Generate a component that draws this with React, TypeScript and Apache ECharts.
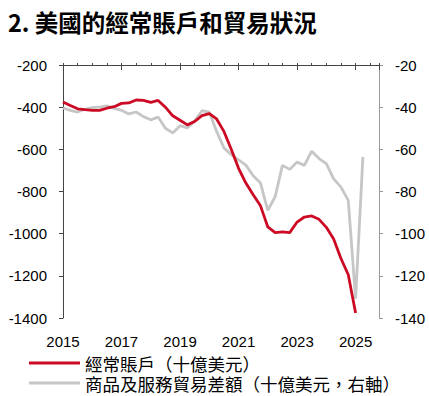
import React, { useEffect, useRef } from 'react';
import * as echarts from 'echarts';

// Quarterly data starting 2015 Q1
const START_YEAR = 2015;
const xLabelYears = [2015, 2017, 2019, 2021, 2023, 2025];
const leftTicks = [-1400, -1200, -1000, -800, -600, -400, -200];
const rightTicks = [-140, -120, -100, -80, -60, -40, -20];

// 經常賬戶（十億美元）, 2015Q1 – 2025Q1
const currentAccount = [
  -375, -392, -408, -412, -415, -415, -405, -398,
  -382, -380, -366, -368, -377, -368, -400, -441,
  -462, -484, -468, -440, -431, -456, -515, -600,
  -690, -760, -815, -868, -968, -995, -992, -995,
  -945, -921, -916, -932, -970, -1025, -1118, -1195,
  -1376,
];

// 商品及服務貿易差額（十億美元，右軸）, 2015Q1 – 2025Q2
const tradeBalance = [
  -40.4, -41.5, -42.3, -41.0, -40.2, -40.0, -39.4, -40.6,
  -41.5, -43.2, -42.3, -44.5, -46.0, -44.7, -50.0, -52.2,
  -48.8, -49.8, -46.5, -41.7, -42.3, -51.5, -59.3, -62.5,
  -65.0, -67.5, -72.5, -76.0, -88.9, -82.5, -67.6, -69.5,
  -66.0, -67.6, -60.9, -64.4, -66.8, -74.0, -77.9, -84.2,
  -130.8, -63.6,
];

const SERIES_NAMES = ['經常賬戶（十億美元）', '商品及服務貿易差額（十億美元，右軸）'];

const RED = '#cc0a24';
const GREY = '#c6c6c6';
const FONT = 'Liberation Sans, Arial, Noto Sans CJK TC, sans-serif';
const CJK_FONT = 'Noto Sans CJK TC, Liberation Sans, sans-serif';

const X_MAX = 10.8;

export default function App() {
  const ref = useRef<HTMLDivElement>(null);

  useEffect(() => {
    document.body.style.margin = '0';
    if (!ref.current) return;
    const chart = echarts.init(ref.current, undefined, { renderer: 'svg' });

    const redData = currentAccount.map((v, i) => [i * 0.25, v]);
    const greyData = tradeBalance.map((v, i) => [i * 0.25, v]);

    const common = { type: 'value' as const, min: 0, max: X_MAX };
    const plainNum = (v: number) => String(v);

    chart.setOption({
      animation: false,
      title: {
        text: '2. 美國的經常賬戶和貿易狀況',
        left: 3,
        top: 5,
        textStyle: {
          fontSize: 23.5,
          fontWeight: 'bold',
          color: '#000',
          fontFamily: CJK_FONT,
        },
      },
      legend: {
        type: 'plain',
        orient: 'vertical',
        left: 29,
        top: 354,
        padding: 0,
        height: 42,
        itemWidth: 51,
        itemHeight: 3,
        itemGap: 2,
        icon: 'rect',
        data: SERIES_NAMES,
        textStyle: {
          fontSize: 17.5,
          lineHeight: 18,
          color: '#000',
          fontFamily: CJK_FONT,
        },
      },
      grid: { left: 63, right: 50, top: 65, bottom: 78, containLabel: false },
      xAxis: [
        {
          ...common,
          position: 'bottom',
          interval: 2,
          axisLine: { show: false },
          axisTick: { show: false },
          splitLine: { show: false },
          axisLabel: {
            margin: 16,
            fontSize: 15,
            color: '#000',
            fontFamily: FONT,
            formatter: (v: number) => {
              const y = START_YEAR + Math.round(v);
              return xLabelYears.includes(y) ? String(y) : '';
            },
          },
        },
        {
          ...common,
          position: 'top',
          interval: 0.5,
          axisLine: { show: true, onZero: false, lineStyle: { color: '#444', width: 1 } },
          axisTick: { show: true, inside: false, length: 2, lineStyle: { color: '#444' } },
          axisLabel: { show: false },
          splitLine: { show: false },
        },
        {
          ...common,
          position: 'top',
          interval: 2,
          axisLine: { show: false },
          axisTick: { show: true, inside: true, length: 5, lineStyle: { color: '#444' } },
          axisLabel: { show: false },
          splitLine: { show: false },
        },
      ],
      yAxis: [
        {
          type: 'value',
          position: 'left',
          min: leftTicks[0],
          max: leftTicks[leftTicks.length - 1],
          interval: 200,
          axisLine: { show: true, onZero: false, lineStyle: { color: '#444', width: 1 } },
          axisTick: { show: true, length: 4, lineStyle: { color: '#444' } },
          splitLine: { show: false },
          axisLabel: { margin: 16, fontSize: 15, color: '#000', fontFamily: FONT, formatter: plainNum },
        },
        {
          type: 'value',
          position: 'right',
          min: rightTicks[0],
          max: rightTicks[rightTicks.length - 1],
          interval: 20,
          axisLine: { show: true, onZero: false, lineStyle: { color: '#9a9a9a', width: 1 } },
          axisTick: { show: true, length: 4, lineStyle: { color: '#9a9a9a' } },
          splitLine: { show: false },
          axisLabel: { margin: 16, fontSize: 15, color: '#000', fontFamily: FONT, formatter: plainNum },
        },
      ],
      series: [
        {
          name: SERIES_NAMES[1],
          type: 'line',
          xAxisIndex: 0,
          yAxisIndex: 1,
          data: greyData,
          showSymbol: false,
          symbol: 'none',
          lineStyle: { color: GREY, width: 2.8 },
          itemStyle: { color: GREY },
        },
        {
          name: SERIES_NAMES[0],
          type: 'line',
          xAxisIndex: 0,
          yAxisIndex: 0,
          data: redData,
          showSymbol: false,
          symbol: 'none',
          lineStyle: { color: RED, width: 2.8 },
          itemStyle: { color: RED },
        },
      ],
    });

    return () => chart.dispose();
  }, []);

  return <div ref={ref} style={{ width: 429, height: 396 }} />;
}
